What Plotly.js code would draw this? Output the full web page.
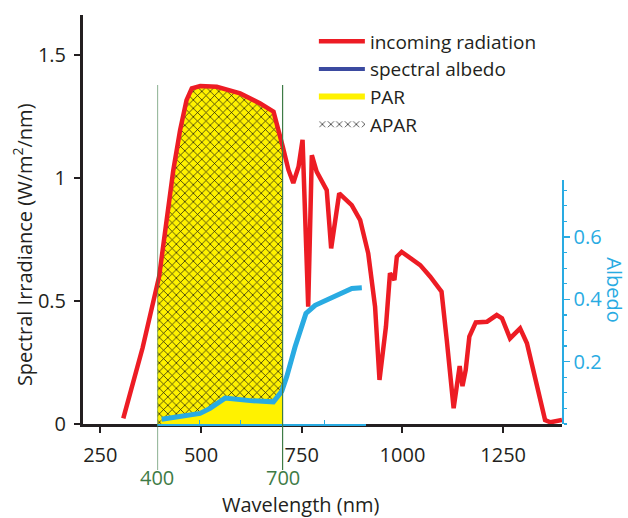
<!DOCTYPE html>
<html>
<head>
<meta charset="utf-8">
<script src="https://cdn.plot.ly/plotly-3.0.1.min.js"></script>
<style>html,body{margin:0;padding:0;background:#fff;}#chart{width:628px;height:518px;}</style>
</head>
<body>
<div id="chart"></div>
<script>
// ---- Data ----
// Incoming radiation (spectral irradiance, W/m2/nm) vs wavelength (nm)
const radWavelength = [307, 355, 396, 406, 419, 431, 448, 464, 477, 498, 539, 597, 646, 680, 703, 717, 729, 742, 752, 766, 775, 787, 812, 823, 843, 874, 895, 915, 932, 943, 959, 969, 980, 986, 998, 1044, 1069, 1097, 1110, 1127, 1142, 1149, 1157, 1166, 1182, 1210, 1234, 1247, 1267, 1292, 1309, 1354, 1367, 1396];
const radIrradiance = [0.023, 0.31, 0.60, 0.72, 0.883, 1.03, 1.195, 1.317, 1.365, 1.374, 1.371, 1.344, 1.304, 1.27, 1.127, 1.033, 0.98, 1.046, 1.155, 0.477, 1.093, 1.026, 0.951, 0.714, 0.938, 0.89, 0.829, 0.694, 0.477, 0.179, 0.396, 0.613, 0.585, 0.68, 0.70, 0.646, 0.599, 0.538, 0.341, 0.064, 0.236, 0.154, 0.22, 0.355, 0.413, 0.416, 0.443, 0.43, 0.348, 0.389, 0.328, 0.016, 0.007, 0.016];
// Spectral albedo vs wavelength (nm), on its own wavelength axis (400-900 nm)
const albWavelength = [410, 502, 526, 562, 622, 678, 698, 710, 730, 756, 778, 814, 866, 890];
const albValue = [0.015, 0.034, 0.050, 0.083, 0.075, 0.071, 0.105, 0.152, 0.248, 0.355, 0.381, 0.403, 0.435, 0.437];
// PAR band limits (nm)
const parLimits = [400, 700];
// Tick values / labels
const xTickVals = [250, 500, 750, 1000, 1250];
const yTickVals = [0, 0.5, 1, 1.5];
const yTickText = ['0', '0.5', '1', '1.5'];
const albTickVals = [0.2, 0.4, 0.6];
const albTickText = ['0.2', '0.4', '0.6'];
const legendNames = ['incoming radiation', 'spectral albedo', 'PAR', 'APAR'];

// ---- Styling ----
const FONT = 'Open Sans, sans-serif';
const DARK = '#231f20';
const RED = '#ed1c24';
const CYAN = '#29abe2';
const NAVY = '#3b4aa0';
const YELLOW = '#fff200';
const GREEN = '#3e7b46';

const xMain = {domain: [0, 1], range: [207, 1396]};
const xAlb = {domain: [0.1555, 0.5908], range: [400, 900]};

// map a value on the albedo wavelength axis onto the main wavelength axis
function albToMain(v) {
  const f = xAlb.domain[0] + (v - xAlb.range[0]) / (xAlb.range[1] - xAlb.range[0]) * (xAlb.domain[1] - xAlb.domain[0]);
  const g = (f - xMain.domain[0]) / (xMain.domain[1] - xMain.domain[0]);
  return xMain.range[0] + g * (xMain.range[1] - xMain.range[0]);
}
function interp(xs, ys, x) {
  for (let i = 0; i < xs.length - 1; i++) {
    if (x >= xs[i] && x <= xs[i + 1]) {
      return ys[i] + (ys[i + 1] - ys[i]) * (x - xs[i]) / (xs[i + 1] - xs[i]);
    }
  }
  return x < xs[0] ? ys[0] : ys[ys.length - 1];
}
// PAR region under the radiation curve
const parLo = albToMain(parLimits[0]), parHi = albToMain(parLimits[1]);
const parX = [parLo], parY = [interp(radWavelength, radIrradiance, parLo)];
radWavelength.forEach((w, i) => { if (w > parLo && w < parHi) { parX.push(w); parY.push(radIrradiance[i]); } });
parX.push(parHi); parY.push(interp(radWavelength, radIrradiance, parHi));
// reflected part under the albedo curve, within PAR
const reflX = [], reflY = [];
albWavelength.forEach((w, i) => { if (w >= parLimits[0] && w < parLimits[1]) { reflX.push(w); reflY.push(albValue[i]); } });
reflX.push(parLimits[1]); reflY.push(interp(albWavelength, albValue, parLimits[1]));

const traces = [
  {x: parX, y: parY, type: 'scatter', mode: 'none', fill: 'tozeroy', fillcolor: YELLOW,
   name: legendNames[2], legendrank: 3, xaxis: 'x', yaxis: 'y', hoverinfo: 'skip'},
  {x: parX, y: parY, type: 'scatter', mode: 'none', fill: 'tozeroy', fillcolor: 'rgba(0,0,0,0)',
   fillpattern: {shape: 'x', fgcolor: '#111', bgcolor: 'rgba(0,0,0,0)', size: 6, solidity: 0.22},
   name: legendNames[3], legendrank: 4, xaxis: 'x', yaxis: 'y', hoverinfo: 'skip'},
  {x: radWavelength, y: radIrradiance, type: 'scatter', mode: 'lines', line: {color: RED, width: 4.5},
   name: legendNames[0], legendrank: 1, xaxis: 'x', yaxis: 'y'},
  {x: [null], y: [null], type: 'scatter', mode: 'lines', line: {color: NAVY, width: 4},
   name: legendNames[1], legendrank: 2, xaxis: 'x', yaxis: 'y'},
  {x: reflX, y: reflY, type: 'scatter', mode: 'none', fill: 'tozeroy', fillcolor: YELLOW,
   showlegend: false, xaxis: 'x2', yaxis: 'y2', hoverinfo: 'skip'},
  {x: albWavelength, y: albValue, type: 'scatter', mode: 'lines', line: {color: CYAN, width: 5},
   showlegend: false, name: legendNames[1], xaxis: 'x2', yaxis: 'y2'}
];

const layout = {
  width: 628, height: 518,
  margin: {l: 83, r: 66, t: 15, b: 94, pad: 0},
  paper_bgcolor: '#fff', plot_bgcolor: 'rgba(0,0,0,0)',
  font: {family: FONT, size: 20, color: DARK},
  showlegend: true,
  legend: {x: 0.482, xanchor: 'left', y: 0.982, yanchor: 'top', bgcolor: 'rgba(0,0,0,0)',
           font: {family: FONT, size: 19, color: DARK}, itemwidth: 46, tracegroupgap: 0},
  xaxis: {domain: xMain.domain, range: xMain.range, anchor: 'y', tickvals: xTickVals,
          ticks: 'outside', ticklen: 6, tickwidth: 2, tickcolor: DARK, showline: true, linewidth: 3,
          linecolor: DARK, showgrid: false, zeroline: false, ticklabelstandoff: 5,
          tickfont: {family: FONT, size: 20, color: DARK}},
  yaxis: {domain: [0, 1], range: [0, 1.663], anchor: 'x', tickvals: yTickVals, ticktext: yTickText,
          ticks: 'outside', ticklen: 6, tickwidth: 2, tickcolor: DARK, showline: true, linewidth: 3,
          linecolor: DARK, showgrid: false, zeroline: false, ticklabelstandoff: 4,
          tickfont: {family: FONT, size: 20, color: DARK}},
  xaxis2: {domain: xAlb.domain, range: xAlb.range, anchor: 'y2', dtick: 100, tick0: 400,
           ticks: 'inside', ticklen: 4, tickwidth: 1.2, tickcolor: CYAN, showticklabels: false,
           showline: true, linewidth: 1.5, linecolor: CYAN, showgrid: false, zeroline: false},
  yaxis2: {domain: [0, 0.5966], range: [0, 0.783], anchor: 'free', position: 1, side: 'right',
           tickvals: albTickVals, ticktext: albTickText, ticks: 'outside', ticklen: 6, tickwidth: 1.5,
           tickcolor: CYAN, showline: true, linewidth: 1.5, linecolor: CYAN, showgrid: false,
           zeroline: false, tickfont: {family: FONT, size: 20, color: CYAN},
           minor: {dtick: 0.05, tick0: 0, ticks: 'outside', ticklen: 3, tickwidth: 1.2, tickcolor: CYAN, showgrid: false}},
  shapes: parLimits.map(v => ({type: 'line', xref: 'x2', yref: 'paper', x0: v, x1: v, y0: -0.1125, y1: 0.829,
                              line: {color: GREEN, width: 1.2}})),
  annotations: [
    ...parLimits.map(v => ({xref: 'x2', yref: 'paper', x: v, y: -0.132, text: String(v), showarrow: false,
                            borderpad: 0, font: {family: FONT, size: 20, color: GREEN}, xanchor: 'center', yanchor: 'middle'})),
    {xref: 'paper', yref: 'paper', x: 0.455, y: -0.197, text: 'Wavelength (nm)', showarrow: false, borderpad: 0,
     font: {family: FONT, size: 20, color: DARK}, xanchor: 'center', yanchor: 'middle'},
    {xref: 'paper', yref: 'paper', x: -0.125, y: 0.4377, text: 'Spectral Irradiance (W/m<sup>2</sup>/nm)', showarrow: false,
     textangle: -90, font: {family: FONT, size: 20, color: DARK}, xanchor: 'center', yanchor: 'middle'},
    {xref: 'paper', yref: 'paper', x: 1.11, y: 0.3276, text: 'Albedo', showarrow: false,
     textangle: 90, font: {family: FONT, size: 20, color: CYAN}, xanchor: 'center', yanchor: 'middle'}
  ]
};

Plotly.newPlot('chart', traces, layout, {displayModeBar: false, staticPlot: true});
</script>
</body>
</html>
